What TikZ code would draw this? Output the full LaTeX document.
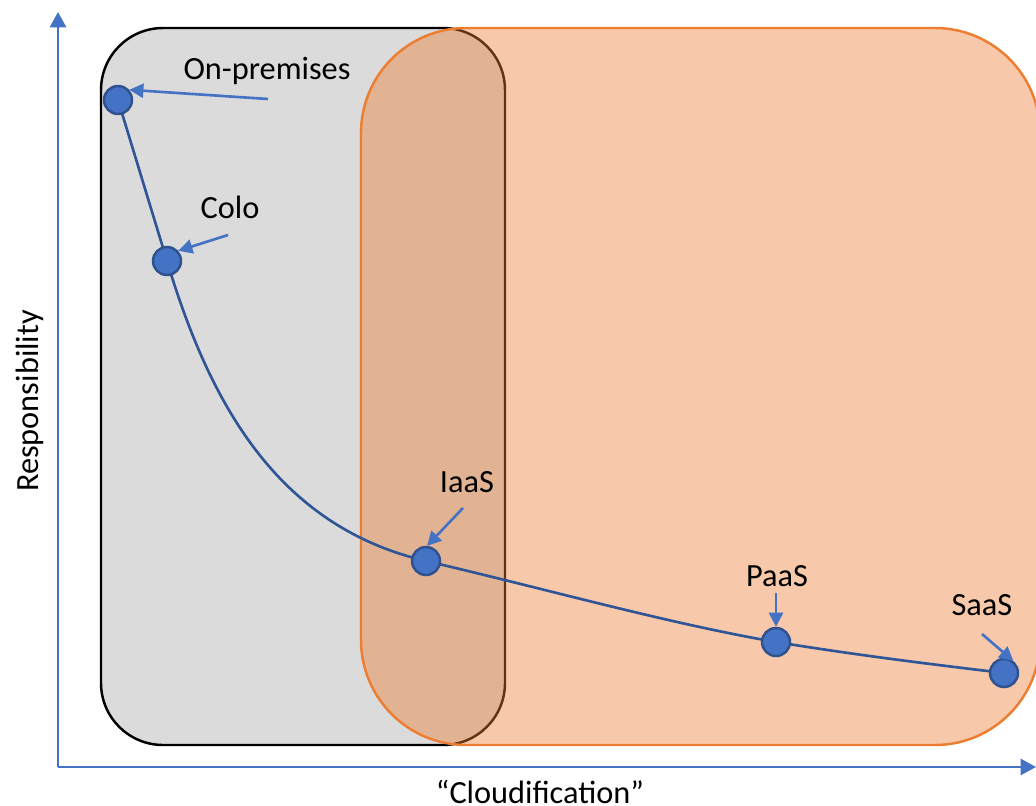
\documentclass[tikz,border=0pt]{standalone}
\usepackage{fontspec}
\setmainfont{Carlito}
\usetikzlibrary{arrows.meta}
\definecolor{axisblue}{HTML}{4472C4}
\definecolor{curveblue}{HTML}{2F5597}
\definecolor{dotedge}{HTML}{2F528F}
\definecolor{boxgrey}{HTML}{DBDBDB}
\definecolor{cloudorange}{HTML}{ED7D31}
\begin{document}
\begin{tikzpicture}[x=0.01cm,y=-0.01cm,
  font=\fontsize{9.2}{11}\selectfont,
  axis/.style={axisblue,line width=0.75pt,-{Triangle[length=4.4pt,width=4.6pt]}},
  pointer/.style={axisblue,line width=0.75pt,-{Triangle[length=4pt,width=4pt]}},
  dot/.style={circle,fill=axisblue,draw=dotedge,line width=0.7pt,inner sep=0pt,minimum size=0.28cm},
  tag/.style={anchor=base}]
\useasboundingbox (0,0) rectangle (1036,806);

\draw[fill=boxgrey,line width=0.7pt,rounded corners=0.62cm] (101,28) rectangle (505,745);
\draw[cloudorange,fill=cloudorange,fill opacity=0.42,line width=0.7pt,rounded corners=1.05cm] (361,28) rectangle (1040,745);

\coordinate (origin) at (58,767);
\coordinate (xend) at (1036,767);
\coordinate (yend) at (58,12);
\draw[axis] (origin) -- (yend);
\draw[axis] (origin) -- (xend);

\coordinate (p1) at (118,100);
\coordinate (p2) at (167,261);
\coordinate (p3) at (426,561);
\coordinate (p4) at (776,642);
\coordinate (p5) at (1004,673);
\draw[curveblue,line width=0.75pt] (p1) -- (p2)
  .. controls (209,401) and (276,526) .. (p3)
  .. controls (546,589) and (666,623) .. (p4)
  .. controls (856,655) and (929,664) .. (p5);

\node[dot] (onprem) at (p1) {};
\node[dot] (colo) at (p2) {};
\node[dot] (iaas) at (p3) {};
\node[dot] (paas) at (p4) {};
\node[dot] (saas) at (p5) {};

\node[tag] (onpremlabel) at (267,80) {On-premises};
\node[tag] (colotag) at (230,218) {Colo};
\node[tag] (iaastag) at (467,492) {IaaS};
\node[tag] (paastag) at (777,586) {PaaS};
\node[tag] (saastag) at (982,615) {SaaS};

\coordinate (onpremtail) at (268,99);
\coordinate (colotail) at (228,235);
\coordinate (iaastail) at (463,508);
\coordinate (paastail) at (776,593);
\coordinate (saastail) at (982,634);
\draw[pointer] (onpremtail) -- (onprem.42);
\draw[pointer] (colotail) -- (colo.42);
\draw[pointer] (iaastail) -- (iaas.86);
\draw[pointer] (paastail) -- (paas.90);
\draw[pointer] (saastail) -- (saas.52);

\node[rotate=90] (ylabel) at (30,401) {Responsibility};
\node[tag] (xlabel) at (540,803) {“Cloudification”};
\end{tikzpicture}
\end{document}
